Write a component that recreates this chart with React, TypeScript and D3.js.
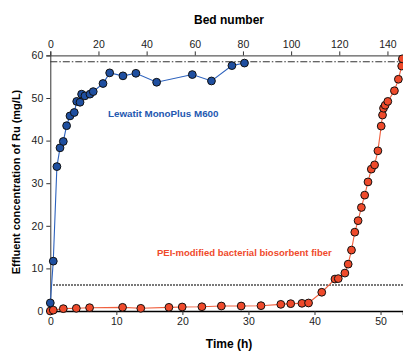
import { useEffect, useRef } from 'react';
import * as d3 from 'd3';

// Lewatit MonoPlus M600 (time h, Ru mg/L)
const resinTime = [0, 0.45, 1.0, 1.47, 1.97, 2.47, 2.98, 3.63, 4.0, 4.5, 4.74, 5.24, 6.0, 6.5, 7.98, 8.99, 11.0, 12.96, 16.1, 21.5, 24.4, 27.5, 29.4];
const resinConc = [1.9, 11.7, 33.9, 38.3, 39.8, 43.5, 45.8, 46.6, 49.2, 49.0, 50.9, 50.5, 50.9, 51.5, 53.4, 55.9, 55.2, 55.8, 53.7, 55.5, 54.0, 57.6, 58.2];

// PEI-modified bacterial biosorbent fiber
const fiberTime = [0, 0.45, 1.97, 3.94, 5.95, 10.94, 13.7, 17.96, 19.97, 22.95, 25.9, 28.9, 31.9, 34.9, 36.4, 38.1, 39.1, 41.1, 43.1, 43.6, 44.6, 45.1, 45.6, 46.1, 46.6, 47.1, 47.6, 48.1, 48.6, 49.1, 49.6, 50.1, 50.3, 50.45, 50.7, 51.1, 52.1, 52.7, 53.2, 53.3];
const fiberConc = [0, 0.2, 0.55, 0.63, 0.78, 0.86, 0.63, 0.86, 0.94, 1.0, 1.17, 1.17, 1.25, 1.56, 1.72, 1.8, 1.88, 4.4, 7.5, 7.6, 8.9, 11.0, 14.3, 18.5, 21.2, 24.3, 27.2, 30.3, 33.3, 34.3, 37.6, 43.4, 46.0, 47.6, 48.3, 49.2, 51.7, 54.4, 57.5, 59.2];

const timeTicks = [0, 10, 20, 30, 40, 50];
const bedTicks = [0, 20, 40, 60, 80, 100, 120, 140];
const concTicks = [0, 10, 20, 30, 40, 50, 60];
const feedLevel = 58.5;
const limitLevel = 6.1;
const hoursPerBed = 0.3646;

const W = 403;
const H = 352;
const font = '"Liberation Sans", Arial, sans-serif';

export default function App() {
  const svgRef = useRef<SVGSVGElement>(null);

  useEffect(() => {
    const svg = d3.select(svgRef.current);
    svg.selectAll('*').remove();

    const left = 50.3;
    const right = 403;
    const top = 55.4;
    const bottom = 311;

    const x = d3.scaleLinear().domain([0, 53.4]).range([left, right]);
    const xBed = d3.scaleLinear().domain([0, 53.4 / hoursPerBed]).range([left, right]);
    const y = d3.scaleLinear().domain([0, 60]).range([bottom, top]);

    // reference lines
    svg.append('line')
      .attr('x1', left).attr('x2', right)
      .attr('y1', y(feedLevel)).attr('y2', y(feedLevel))
      .attr('stroke', '#333').attr('stroke-width', 1.1)
      .attr('stroke-dasharray', '7,2,1.5,2');
    svg.append('line')
      .attr('x1', left + 3).attr('x2', right)
      .attr('y1', y(limitLevel)).attr('y2', y(limitLevel))
      .attr('stroke', '#000').attr('stroke-width', 1.4)
      .attr('stroke-dasharray', '1.4,1.6');

    // left axis
    const gy = svg.append('g').attr('transform', `translate(${left},0)`)
      .call(d3.axisLeft(y).tickValues(concTicks).tickSize(4).tickPadding(3));
    // bottom axis
    const gx = svg.append('g').attr('transform', `translate(0,${bottom})`)
      .call(d3.axisBottom(x).tickValues(timeTicks).tickSize(4).tickPadding(3));
    // top axis (bed number)
    const gt = svg.append('g').attr('transform', `translate(0,${top})`)
      .call(d3.axisTop(xBed).tickValues(bedTicks).tickSize(4).tickPadding(3));

    [gy, gx, gt].forEach(g => {
      g.select('.domain').attr('stroke', '#333').attr('stroke-width', 1);
      g.selectAll('.tick line').attr('stroke', '#333');
      g.selectAll('.tick text')
        .attr('fill', '#222')
        .attr('font-family', font)
        .attr('font-size', 10.5);
    });
    gx.select('.domain').attr('stroke', '#000').attr('stroke-width', 1.5);

    const line = d3.line<[number, number]>()
      .x(d => x(d[0]))
      .y(d => y(d[1]));

    const series = [
      { t: fiberTime, c: fiberConc, fill: '#ef4a2b', stroke: '#f0603f' },
      { t: resinTime, c: resinConc, fill: '#1f4fa0', stroke: '#2d62bd' },
    ];

    const plot = svg.append('g');
    series.forEach(s => {
      const pts: [number, number][] = s.t.map((t, i) => [t, s.c[i]]);
      plot.append('path')
        .attr('d', line(pts))
        .attr('fill', 'none')
        .attr('stroke', s.stroke)
        .attr('stroke-width', 1.1);
      plot.selectAll(null)
        .data(pts)
        .enter()
        .append('circle')
        .attr('cx', d => x(d[0]))
        .attr('cy', d => y(d[1]))
        .attr('r', 3.9)
        .attr('fill', s.fill)
        .attr('stroke', '#111')
        .attr('stroke-width', 1);
    });

    // series labels
    svg.append('text')
      .attr('x', 108).attr('y', 117)
      .attr('fill', '#2458b0')
      .attr('font-family', font).attr('font-size', 9.8).attr('font-weight', 700)
      .text('Lewatit MonoPlus M600');
    svg.append('text')
      .attr('x', 157).attr('y', 256)
      .attr('fill', '#ef4a2b')
      .attr('font-family', font).attr('font-size', 9.5).attr('font-weight', 700)
      .text('PEI-modified bacterial biosorbent fiber');

    // axis titles
    svg.append('text')
      .attr('x', 229).attr('y', 24)
      .attr('text-anchor', 'middle')
      .attr('font-family', font).attr('font-size', 12).attr('font-weight', 700)
      .text('Bed number');
    svg.append('text')
      .attr('x', 229).attr('y', 348)
      .attr('text-anchor', 'middle')
      .attr('font-family', font).attr('font-size', 12).attr('font-weight', 700)
      .text('Time (h)');
    svg.append('text')
      .attr('transform', `translate(20,182) rotate(-90)`)
      .attr('text-anchor', 'middle')
      .attr('font-family', font).attr('font-size', 11).attr('font-weight', 700)
      .text('Effluent concentration of Ru (mg/L)');
  }, []);

  return (
    <svg
      ref={svgRef}
      width={W}
      height={H}
      style={{ position: 'absolute', left: 0, top: 0, background: '#fff', overflow: 'hidden' }}
    />
  );
}
